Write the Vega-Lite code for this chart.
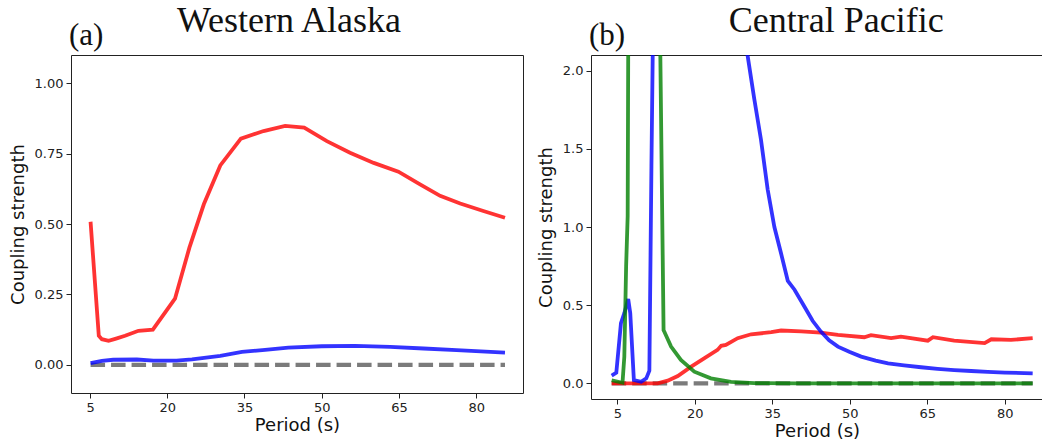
{
  "$schema": "https://vega.github.io/schema/vega-lite/v6.json",
  "padding": {"left": 8, "top": 2, "right": 0, "bottom": 0},
  "spacing": 12,
  "config": {
    "view": {"stroke": "#222222", "strokeWidth": 1},
    "axis": {
      "domain": false, "grid": false, "ticks": true, "tickColor": "#222222", "tickSize": 5, "tickWidth": 1,
      "labelFont": "DejaVu Sans", "labelFontSize": 13, "labelColor": "#222222", "labelPadding": 3,
      "titleFont": "DejaVu Sans", "titleFontSize": 18, "titleFontWeight": "normal", "titleColor": "#111111"
    },
    "axisX": {"titlePadding": 2},
    "axisY": {"titlePadding": 7},
    "title": {"font": "Liberation Serif", "fontWeight": "normal", "color": "#111111"}
  },
  "datasets": {
    "alaska": [
      {"period": 5.1, "strength": 0.0, "series": "zero"},
      {"period": 85.6, "strength": 0.0, "series": "zero"},
      {"period": 5.1, "strength": 0.508, "series": "red"},
      {"period": 6.7, "strength": 0.103, "series": "red"},
      {"period": 7.3, "strength": 0.091, "series": "red"},
      {"period": 8.6, "strength": 0.085, "series": "red"},
      {"period": 9.9, "strength": 0.092, "series": "red"},
      {"period": 11.8, "strength": 0.103, "series": "red"},
      {"period": 14.4, "strength": 0.121, "series": "red"},
      {"period": 17.2, "strength": 0.125, "series": "red"},
      {"period": 21.5, "strength": 0.235, "series": "red"},
      {"period": 24.3, "strength": 0.416, "series": "red"},
      {"period": 27.1, "strength": 0.57, "series": "red"},
      {"period": 30.3, "strength": 0.708, "series": "red"},
      {"period": 34.3, "strength": 0.803, "series": "red"},
      {"period": 38.7, "strength": 0.83, "series": "red"},
      {"period": 42.9, "strength": 0.848, "series": "red"},
      {"period": 46.6, "strength": 0.842, "series": "red"},
      {"period": 51.0, "strength": 0.794, "series": "red"},
      {"period": 55.5, "strength": 0.753, "series": "red"},
      {"period": 60.1, "strength": 0.717, "series": "red"},
      {"period": 64.9, "strength": 0.686, "series": "red"},
      {"period": 69.1, "strength": 0.641, "series": "red"},
      {"period": 73.0, "strength": 0.6, "series": "red"},
      {"period": 76.9, "strength": 0.573, "series": "red"},
      {"period": 81.4, "strength": 0.546, "series": "red"},
      {"period": 85.6, "strength": 0.522, "series": "red"},
      {"period": 5.1, "strength": 0.006, "series": "blue"},
      {"period": 7.3, "strength": 0.014, "series": "blue"},
      {"period": 9.5, "strength": 0.018, "series": "blue"},
      {"period": 14.1, "strength": 0.019, "series": "blue"},
      {"period": 17.3, "strength": 0.015, "series": "blue"},
      {"period": 21.8, "strength": 0.015, "series": "blue"},
      {"period": 24.8, "strength": 0.019, "series": "blue"},
      {"period": 30.3, "strength": 0.032, "series": "blue"},
      {"period": 34.5, "strength": 0.046, "series": "blue"},
      {"period": 39.0, "strength": 0.053, "series": "blue"},
      {"period": 43.5, "strength": 0.061, "series": "blue"},
      {"period": 50.0, "strength": 0.066, "series": "blue"},
      {"period": 56.5, "strength": 0.067, "series": "blue"},
      {"period": 63.3, "strength": 0.064, "series": "blue"},
      {"period": 69.8, "strength": 0.058, "series": "blue"},
      {"period": 76.2, "strength": 0.052, "series": "blue"},
      {"period": 85.6, "strength": 0.043, "series": "blue"}
    ],
    "pacific": [
      {"period": 3.9, "strength": 0.0, "series": "zero"},
      {"period": 85.4, "strength": 0.0, "series": "zero"},
      {"period": 3.9, "strength": 0.0, "series": "red"},
      {"period": 8.0, "strength": 0.0, "series": "red"},
      {"period": 12.8, "strength": 0.0, "series": "red"},
      {"period": 14.75, "strength": 0.017, "series": "red"},
      {"period": 16.7, "strength": 0.047, "series": "red"},
      {"period": 19.3, "strength": 0.107, "series": "red"},
      {"period": 21.8, "strength": 0.16, "series": "red"},
      {"period": 24.4, "strength": 0.214, "series": "red"},
      {"period": 25.1, "strength": 0.24, "series": "red"},
      {"period": 26.0, "strength": 0.246, "series": "red"},
      {"period": 28.3, "strength": 0.289, "series": "red"},
      {"period": 30.9, "strength": 0.314, "series": "red"},
      {"period": 34.8, "strength": 0.327, "series": "red"},
      {"period": 36.7, "strength": 0.338, "series": "red"},
      {"period": 40.6, "strength": 0.333, "series": "red"},
      {"period": 44.4, "strength": 0.325, "series": "red"},
      {"period": 47.7, "strength": 0.31, "series": "red"},
      {"period": 52.8, "strength": 0.295, "series": "red"},
      {"period": 54.1, "strength": 0.308, "series": "red"},
      {"period": 58.0, "strength": 0.289, "series": "red"},
      {"period": 59.9, "strength": 0.299, "series": "red"},
      {"period": 65.1, "strength": 0.273, "series": "red"},
      {"period": 66.1, "strength": 0.295, "series": "red"},
      {"period": 70.2, "strength": 0.273, "series": "red"},
      {"period": 76.1, "strength": 0.257, "series": "red"},
      {"period": 77.4, "strength": 0.282, "series": "red"},
      {"period": 81.2, "strength": 0.278, "series": "red"},
      {"period": 85.4, "strength": 0.289, "series": "red"},
      {"period": 3.9, "strength": 0.05, "series": "blue"},
      {"period": 4.8, "strength": 0.068, "series": "blue"},
      {"period": 5.7, "strength": 0.385, "series": "blue"},
      {"period": 6.35, "strength": 0.449, "series": "blue"},
      {"period": 7.1, "strength": 0.539, "series": "blue"},
      {"period": 7.5, "strength": 0.449, "series": "blue"},
      {"period": 8.2, "strength": 0.021, "series": "blue"},
      {"period": 9.6, "strength": 0.01, "series": "blue"},
      {"period": 10.6, "strength": 0.032, "series": "blue"},
      {"period": 11.2, "strength": 0.081, "series": "blue"},
      {"period": 11.6, "strength": 1.39, "series": "blue"},
      {"period": 11.95, "strength": 2.4, "series": "blue"},
      {"period": 15.0, "strength": 10.0, "series": "blue"},
      {"period": 29.6, "strength": 2.5, "series": "blue"},
      {"period": 30.2, "strength": 2.1, "series": "blue"},
      {"period": 31.5, "strength": 1.82, "series": "blue"},
      {"period": 32.8, "strength": 1.56, "series": "blue"},
      {"period": 34.1, "strength": 1.24, "series": "blue"},
      {"period": 35.4, "strength": 1.0, "series": "blue"},
      {"period": 36.7, "strength": 0.83, "series": "blue"},
      {"period": 38.0, "strength": 0.655, "series": "blue"},
      {"period": 39.3, "strength": 0.599, "series": "blue"},
      {"period": 41.2, "strength": 0.492, "series": "blue"},
      {"period": 42.8, "strength": 0.4, "series": "blue"},
      {"period": 44.4, "strength": 0.331, "series": "blue"},
      {"period": 46.0, "strength": 0.275, "series": "blue"},
      {"period": 47.7, "strength": 0.235, "series": "blue"},
      {"period": 50.0, "strength": 0.2, "series": "blue"},
      {"period": 52.2, "strength": 0.171, "series": "blue"},
      {"period": 55.0, "strength": 0.146, "series": "blue"},
      {"period": 57.4, "strength": 0.128, "series": "blue"},
      {"period": 60.5, "strength": 0.115, "series": "blue"},
      {"period": 63.8, "strength": 0.103, "series": "blue"},
      {"period": 67.0, "strength": 0.093, "series": "blue"},
      {"period": 70.2, "strength": 0.085, "series": "blue"},
      {"period": 73.5, "strength": 0.079, "series": "blue"},
      {"period": 76.7, "strength": 0.073, "series": "blue"},
      {"period": 80.0, "strength": 0.069, "series": "blue"},
      {"period": 85.4, "strength": 0.064, "series": "blue"},
      {"period": 3.9, "strength": 0.02, "series": "green"},
      {"period": 6.0, "strength": 0.004, "series": "green"},
      {"period": 6.35, "strength": 0.17, "series": "green"},
      {"period": 6.7, "strength": 0.75, "series": "green"},
      {"period": 7.0, "strength": 1.07, "series": "green"},
      {"period": 7.15, "strength": 2.6, "series": "green"},
      {"period": 10.0, "strength": 10.0, "series": "green"},
      {"period": 13.0, "strength": 3.0, "series": "green"},
      {"period": 13.95, "strength": 0.34, "series": "green"},
      {"period": 14.1, "strength": 0.33, "series": "green"},
      {"period": 15.4, "strength": 0.235, "series": "green"},
      {"period": 17.3, "strength": 0.15, "series": "green"},
      {"period": 19.9, "strength": 0.075, "series": "green"},
      {"period": 23.1, "strength": 0.032, "series": "green"},
      {"period": 27.0, "strength": 0.01, "series": "green"},
      {"period": 31.5, "strength": 0.002, "series": "green"},
      {"period": 40.0, "strength": 0.0, "series": "green"},
      {"period": 85.4, "strength": 0.0, "series": "green"}
    ]
  },
  "hconcat": [
    {
      "title": {"text": "Western Alaska", "fontSize": 36, "anchor": "middle", "offset": -20, "dx": 23},
      "vconcat": [
        {
          "title": {"text": "(a)", "fontSize": 31, "anchor": "start", "frame": "group", "offset": 3, "dx": -2},
          "width": 452,
          "height": 338,
          "data": {"name": "alaska"},
          "encoding": {
            "x": {"field": "period", "type": "quantitative",
                  "scale": {"domain": [1.3, 89.1], "nice": false, "zero": false},
                  "axis": {"values": [5, 20, 35, 50, 65, 80], "title": "Period (s)"}},
            "y": {"field": "strength", "type": "quantitative",
                  "scale": {"domain": [-0.1, 1.1], "nice": false, "zero": false},
                  "axis": {"values": [0, 0.25, 0.5, 0.75, 1.0], "format": ".2f", "title": "Coupling strength"}}
          },
          "layer": [
            {"transform": [{"filter": "datum.series === 'zero'"}],
             "mark": {"type": "line", "clip": true, "strokeWidth": 4.2, "strokeDash": [14.5, 6], "strokeCap": "butt"},
             "encoding": {"color": {"value": "#7b7b7b"}}},
            {"transform": [{"filter": "datum.series === 'red'"}],
             "mark": {"type": "line", "clip": true, "strokeWidth": 3.8, "opacity": 0.8},
             "encoding": {"color": {"value": "#ff0000"}}},
            {"transform": [{"filter": "datum.series === 'blue'"}],
             "mark": {"type": "line", "clip": true, "strokeWidth": 3.8, "opacity": 0.8},
             "encoding": {"color": {"value": "#0000ff"}}}
          ]
        }
      ]
    },
    {
      "title": {"text": "Central Pacific", "fontSize": 36, "anchor": "middle", "offset": -20, "dx": 46},
      "vconcat": [
        {
          "title": {"text": "(b)", "fontSize": 31, "anchor": "start", "frame": "group", "offset": 3, "dx": -2},
          "width": 452,
          "height": 344,
          "data": {"name": "pacific"},
          "encoding": {
            "x": {"field": "period", "type": "quantitative",
                  "scale": {"domain": [-0.1, 87.4], "nice": false, "zero": false},
                  "axis": {"values": [5, 20, 35, 50, 65, 80], "title": "Period (s)"}},
            "y": {"field": "strength", "type": "quantitative",
                  "scale": {"domain": [-0.1, 2.1], "nice": false, "zero": false},
                  "axis": {"values": [0, 0.5, 1.0, 1.5, 2.0], "format": ".1f", "title": "Coupling strength"}}
          },
          "layer": [
            {"transform": [{"filter": "datum.series === 'zero'"}],
             "mark": {"type": "line", "clip": true, "strokeWidth": 4.2, "strokeDash": [14.5, 6], "strokeCap": "butt"},
             "encoding": {"color": {"value": "#7b7b7b"}}},
            {"transform": [{"filter": "datum.series === 'red'"}],
             "mark": {"type": "line", "clip": true, "strokeWidth": 3.8, "opacity": 0.8},
             "encoding": {"color": {"value": "#ff0000"}}},
            {"transform": [{"filter": "datum.series === 'blue'"}],
             "mark": {"type": "line", "clip": true, "strokeWidth": 3.8, "opacity": 0.8},
             "encoding": {"color": {"value": "#0000ff"}}},
            {"transform": [{"filter": "datum.series === 'green'"}],
             "mark": {"type": "line", "clip": true, "strokeWidth": 3.8, "opacity": 0.8},
             "encoding": {"color": {"value": "#008000"}}}
          ]
        }
      ]
    }
  ]
}
